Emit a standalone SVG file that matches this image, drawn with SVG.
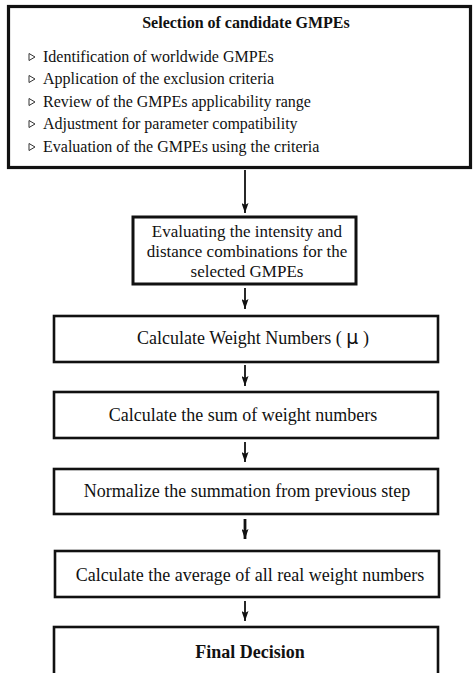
<svg xmlns="http://www.w3.org/2000/svg" width="475" height="673" viewBox="0 0 475 673">
<style>
.box{fill:#fff;stroke:#111;stroke-width:2.6}
.t{font-family:"Liberation Serif","Times New Roman",serif;font-size:18px;fill:#111}
.b{font-weight:bold}
.s16{font-size:16px}
.s17{font-size:17px}
.con line{stroke:#111;stroke-width:1.8}
.bul{fill:none;stroke:#333;stroke-width:1}
</style>
<defs>
<marker id="ah" viewBox="0 0 10 7" refX="10" refY="3.5" markerWidth="10" markerHeight="7" orient="auto" markerUnits="userSpaceOnUse">
<path d="M0,0 L10,3.5 L0,7 L2,3.5 z" fill="#111"/>
</marker>
<path id="tri" d="M0,-3.5 L6,0 L0,3.5 z" class="bul"/>
</defs>
<rect width="475" height="673" fill="#fff"/>
<g id="selection">
<rect class="box" x="8.5" y="6.5" width="462" height="161" style="stroke-width:3.2"/>
<text class="t b s16" x="246" y="28" text-anchor="middle">Selection of candidate GMPEs</text>
<use href="#tri" x="29" y="57"/>
<use href="#tri" x="29" y="79"/>
<use href="#tri" x="29" y="102"/>
<use href="#tri" x="29" y="124"/>
<use href="#tri" x="29" y="147"/>
<text class="t s16" x="43" y="62">Identification of worldwide GMPEs</text>
<text class="t s16" x="43" y="84">Application of the exclusion criteria</text>
<text class="t s16" x="43" y="107">Review of the GMPEs applicability range</text>
<text class="t s16" x="43" y="129">Adjustment for parameter compatibility</text>
<text class="t s16" x="43" y="152">Evaluation of the GMPEs using the criteria</text>
</g>
<g id="evaluating">
<rect class="box" x="133" y="217" width="223" height="67" style="stroke-width:3"/>
<text class="t s17" x="247" y="237" text-anchor="middle">Evaluating the intensity and</text>
<text class="t s17" x="247" y="257" text-anchor="middle">distance combinations for the</text>
<text class="t s17" x="247" y="277" text-anchor="middle">selected GMPEs</text>
</g>
<g id="weights">
<rect class="box" x="54" y="316" width="384" height="46"/>
<text class="t" x="253" y="344" text-anchor="middle">Calculate Weight Numbers ( <tspan style="font-family:'DejaVu Sans',sans-serif;font-size:19px">μ</tspan> )</text>
</g>
<g id="sum">
<rect class="box" x="54" y="392" width="384" height="46"/>
<text class="t" x="243" y="421" text-anchor="middle">Calculate the sum of weight numbers</text>
</g>
<g id="normalize">
<rect class="box" x="54" y="469" width="384" height="45"/>
<text class="t" x="247" y="497" text-anchor="middle">Normalize the summation from previous step</text>
</g>
<g id="average">
<rect class="box" x="55" y="551" width="384" height="46"/>
<text class="t" x="250" y="581" text-anchor="middle">Calculate the average of all real weight numbers</text>
</g>
<g id="final">
<rect class="box" x="54" y="627" width="384" height="50"/>
<text class="t b" x="250" y="658" text-anchor="middle">Final Decision</text>
</g>
<g id="connectors" class="con">
<line x1="245" y1="170" x2="245" y2="213" marker-end="url(#ah)"/>
<line x1="245" y1="288" x2="245" y2="309" marker-end="url(#ah)"/>
<line x1="245" y1="365" x2="245" y2="386" marker-end="url(#ah)"/>
<line x1="245" y1="442" x2="245" y2="462" marker-end="url(#ah)"/>
<line x1="245" y1="519" x2="245" y2="539" marker-end="url(#ah)" style="stroke-width:2.8"/>
<line x1="245" y1="601" x2="245" y2="621" marker-end="url(#ah)"/>
</g>
</svg>
